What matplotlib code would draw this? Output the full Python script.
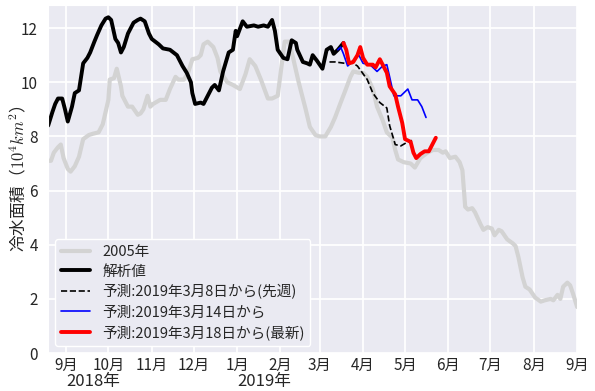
import numpy as np
import pandas as pd
import matplotlib
matplotlib.use('Agg')
import matplotlib.pyplot as plt
import matplotlib.dates as mdates
import matplotlib.transforms as mtransforms
import seaborn as sns

# days counted from 2018-09-01
base = pd.Timestamp('2018-09-01')

# 2005 (shifted to the same season)
days_2005 = [-13, -11, -9, -6, -4, -2, 1, 3, 6, 9, 12, 16, 19, 23, 26, 30, 31, 34, 36, 39,
             40, 42, 44, 47, 51, 53, 55, 58, 60, 62, 67, 71, 74, 78, 80, 84, 87, 90, 94, 96,
             98, 101, 105, 108, 110, 115, 119, 124, 128, 131, 135, 139, 144, 147, 151, 154, 156, 159, 162, 166,
             171, 174, 178, 181, 185, 189, 192, 196, 199, 203, 205, 209, 212, 215, 219, 222, 226, 229, 233, 235,
             237, 241, 246, 249, 253, 258, 262, 266, 269, 271, 274, 278, 281, 283, 285, 287, 290, 292, 296, 298,
             301, 304, 306, 309, 311, 315, 319, 321, 323, 326, 328, 331, 335, 339, 342, 346, 348, 351, 353, 355,
             358, 360, 362, 365]
vals_2005 = [7.1, 7.1, 7.4, 7.6, 7.7, 7.2, 6.8, 6.7, 6.9, 7.25, 7.9, 8.05, 8.1, 8.15, 8.45, 9.35, 10.1, 10.15, 10.5, 9.85,
             9.5, 9.3, 9.1, 9.1, 8.8, 8.85, 9.0, 9.5, 9.1, 9.2, 9.35, 9.35, 9.75, 10.2, 10.1, 10.1, 10.35, 10.85, 10.9, 11.0,
             11.4, 11.5, 11.3, 10.9, 10.4, 10.0, 9.9, 9.75, 10.3, 10.85, 10.6, 10.1, 9.4, 9.4, 9.5, 10.7, 11.5, 11.5, 10.9, 10.0,
             9.0, 8.35, 8.05, 8.0, 8.0, 8.35, 8.7, 9.25, 9.65, 10.2, 10.4, 10.35, 10.35, 10.2, 9.75, 9.1, 8.6, 8.15, 7.95, 7.5,
             7.15, 7.05, 7.0, 6.85, 7.2, 7.4, 7.5, 7.5, 7.4, 7.45, 7.2, 7.25, 7.05, 6.75, 5.4, 5.3, 5.35, 5.2, 4.75, 4.55,
             4.65, 4.6, 4.35, 4.55, 4.5, 4.2, 4.05, 3.95, 3.55, 2.8, 2.45, 2.35, 2.05, 1.9, 1.95, 2.0, 1.95, 2.15, 2.0, 2.45,
             2.6, 2.5, 2.2, 1.7]

# analysis
days_obs = [-13, -10, -8, -6, -3, -1, 1, 4, 6, 9, 12, 15, 17, 20, 22, 25, 28, 30, 32, 35,
            37, 39, 41, 44, 48, 51, 53, 56, 59, 61, 66, 69, 74, 79, 83, 86, 89, 90, 92, 96,
            98, 101, 104, 106, 109, 112, 116, 119, 121, 122, 126, 129, 134, 137, 141, 144, 147, 149, 151, 155,
            158, 161, 164, 165, 169, 172, 174, 176, 179, 183, 186, 189, 191, 194, 198]
vals_obs = [8.4, 8.9, 9.2, 9.4, 9.4, 9.0, 8.55, 9.1, 9.6, 9.7, 10.7, 10.9, 11.1, 11.5, 11.75, 12.1, 12.35, 12.4, 12.3, 11.6,
            11.45, 11.1, 11.3, 11.8, 12.2, 12.3, 12.35, 12.25, 11.8, 11.6, 11.4, 11.25, 11.2, 11.0, 10.6, 10.35, 10.0, 9.6, 9.2, 9.25,
            9.2, 9.5, 9.8, 9.9, 9.7, 10.4, 11.1, 11.2, 11.9, 11.7, 12.25, 12.05, 12.1, 12.05, 12.1, 12.05, 12.3, 11.9, 11.2, 10.9,
            10.85, 11.55, 11.45, 11.2, 10.75, 10.7, 10.65, 11.0, 10.8, 10.5, 11.2, 11.3, 11.05, 11.2, 11.45]

# forecast from 2019-03-08
days_f08 = [188, 192, 199, 205, 208, 215, 219, 224, 229, 231, 235, 239, 244, 247]
vals_f08 = [10.75, 10.75, 10.7, 10.7, 10.6, 10.1, 9.6, 9.25, 9.05, 8.4, 7.7, 7.65, 7.8, 7.85]

# forecast from 2019-03-14
days_f14 = [194, 196, 198, 201, 205, 209, 212, 217, 222, 226, 229, 231, 234, 239, 244, 247, 251, 254, 257]
vals_f14 = [11.2, 11.3, 11.05, 10.6, 10.8, 11.0, 10.7, 10.65, 10.4, 10.6, 10.65, 10.2, 9.5, 9.5, 9.75, 9.35, 9.35, 9.1, 8.7]

# forecast from 2019-03-18
days_f18 = [198, 200, 202, 205, 208, 210, 212, 215, 219, 221, 224, 226, 229, 231, 235, 237, 240, 242, 246, 248,
            250, 253, 256, 259, 261, 264]
vals_f18 = [11.45, 11.2, 10.7, 10.75, 11.0, 11.3, 10.9, 10.65, 10.65, 10.55, 10.85, 10.65, 10.35, 9.85, 9.55, 9.1, 8.5, 7.9, 7.8, 7.4,
            7.2, 7.35, 7.45, 7.45, 7.65, 7.95]

labels = ['2005年', '解析値', '予測:2019年3月8日から(先週)', '予測:2019年3月14日から', '予測:2019年3月18日から(最新)']


def to_dates(days):
    return base + pd.to_timedelta(days, unit='D')


sns.set_style('darkgrid')
plt.rcParams['font.family'] = ['Noto Sans CJK JP', 'DejaVu Sans']
plt.rcParams['mathtext.fontset'] = 'cm'

fig = plt.figure(figsize=(5.95, 3.91), dpi=100)
ax = fig.add_axes([0.081, 0.097, 0.889, 0.890])

ax.plot(to_dates(days_2005), vals_2005, color='lightgray', lw=3, label=labels[0])
ax.plot(to_dates(days_obs), vals_obs, color='black', lw=2.8, label=labels[1])
ax.plot(to_dates(days_f08), vals_f08, color='black', lw=1.2, ls='--', label=labels[2])
ax.plot(to_dates(days_f14), vals_f14, color='blue', lw=1.2, label=labels[3])
ax.plot(to_dates(days_f18), vals_f18, color='red', lw=2.8, label=labels[4])

ax.set_xlim(to_dates([-13])[0], pd.Timestamp('2019-09-01'))
ax.set_ylim(0, 12.85)
ax.set_yticks(range(0, 13, 2))
ax.grid(lw=1.3, color='white')

ax.xaxis.set_major_locator(mdates.MonthLocator())
ax.xaxis.set_major_formatter(mdates.DateFormatter('%-m月'))
ax.tick_params(axis='y', labelsize=11, pad=4)
ax.tick_params(axis='x', labelsize=11, pad=-1)

trans = mtransforms.blended_transform_factory(ax.transData, ax.transAxes)
ax.text(pd.Timestamp('2018-09-01'), -0.083, '2018年', transform=trans, fontsize=12,
        ha='left', va='center')
ax.text(pd.Timestamp('2019-01-01'), -0.083, '2019年', transform=trans, fontsize=12,
        ha='left', va='center')

ax.set_ylabel('冷水面積（$10^4km^2$）', fontsize=12)
ax.yaxis.set_label_coords(-0.038, 0.5)

leg = ax.legend(loc='lower left', fontsize=10.5, frameon=True, facecolor='#EAEAF2',
                edgecolor='white', framealpha=1, labelspacing=0.4)

fig.savefig('out.png', dpi=100)
